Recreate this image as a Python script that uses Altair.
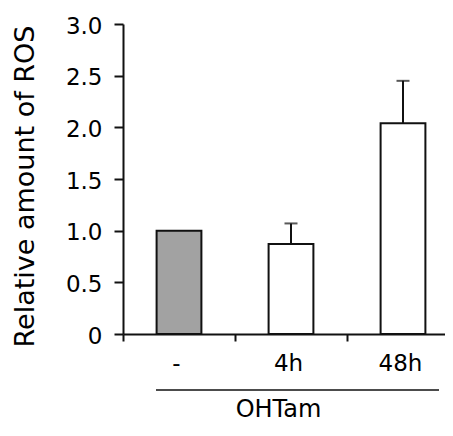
import altair as alt
import pandas as pd

# ---- data ----
categories = ["-", "4h", "48h"]
values = [1.0, 0.87, 2.04]
errors = [0.0, 0.20, 0.41]
y_ticks = [0, 0.5, 1.0, 1.5, 2.0, 2.5, 3.0]
y_title = "Relative amount of ROS"
group_label = "OHTam"

# ---- styles ----
fills = ["#a2a2a2", "#ffffff", "#ffffff"]
FONT = "DejaVu Sans"
INK = "#111111"
BAND_RANGE = 336  # three bands of the x scale
HALF_STEP = BAND_RANGE / len(categories) / 2

df = pd.DataFrame({"cat": categories, "val": values, "err": errors})
df["top"] = df["val"] + df["err"]

x_enc = alt.X(
    "cat:N",
    sort=categories,
    scale=alt.Scale(range=[0, BAND_RANGE], paddingInner=0.6, paddingOuter=0.3),
    axis=alt.Axis(
        title=group_label,
        ticks=True,
        domain=True,
        tickBand="center",
        tickOffset=-HALF_STEP,
        labelOffset=HALF_STEP - 3,
        labelAngle=0,
        tickSize=7,
        tickWidth=2,
        tickColor=INK,
        domainColor=INK,
        domainWidth=2,
        labelFont=FONT,
        labelFontSize=23,
        labelColor="black",
        labelBaseline="alphabetic",
        labelPadding=29,
        titleFont=FONT,
        titleFontSize=24,
        titleFontWeight="normal",
        titleColor="black",
        titleX=155,
        titleY=82,
        titleBaseline="alphabetic",
        titleAlign="center",
    ),
)

y_axis = alt.Axis(
    title=y_title,
    ticks=True,
    domain=True,
    values=y_ticks,
    labelExpr="datum.value == 0 ? '0' : format(datum.value, '.1f')",
    tickSize=9,
    tickWidth=2,
    tickColor=INK,
    domainColor=INK,
    domainWidth=2,
    labelFont=FONT,
    labelFontSize=23,
    labelColor="black",
    labelPadding=12,
    labelOffset=2,
    titleFont=FONT,
    titleFontSize=27,
    titleFontWeight="normal",
    titleColor="black",
    titleAngle=270,
    titleX=-90,
    titleY=162,
    titleBaseline="alphabetic",
    titleAlign="center",
)
y_scale = alt.Scale(domain=[0, 3], nice=False, zero=True)

base = alt.Chart(df)

bars = base.mark_bar(stroke=INK, strokeWidth=2).encode(
    x=x_enc,
    y=alt.Y("val:Q", scale=y_scale, axis=y_axis),
    color=alt.Color("cat:N", scale=alt.Scale(domain=categories, range=fills), legend=None),
)

err_rule = base.transform_filter("datum.err > 0").mark_rule(color=INK, strokeWidth=2).encode(
    x=x_enc,
    y=alt.Y("val:Q", scale=y_scale, axis=y_axis),
    y2="top:Q",
)

err_cap = base.transform_filter("datum.err > 0").mark_tick(color=INK, thickness=2, size=13).encode(
    x=x_enc,
    y=alt.Y("top:Q", scale=y_scale, axis=y_axis),
)

group_line = alt.Chart(pd.DataFrame({"g": [group_label]})).mark_rule(
    color=INK, strokeWidth=1.5
).encode(x=alt.value(33), x2=alt.value(316), y=alt.value(366))

chart = (
    alt.layer(bars, err_rule, err_cap, group_line)
    .properties(
        width=322,
        height=310,
        autosize=alt.AutoSizeParams(type="none"),
        padding={"left": 115, "top": 16, "right": 0, "bottom": 88},
    )
    .configure_view(stroke=None)
    .configure_axis(grid=False)
)

chart.save("out.html", embed_options={"renderer": "svg", "actions": False})
